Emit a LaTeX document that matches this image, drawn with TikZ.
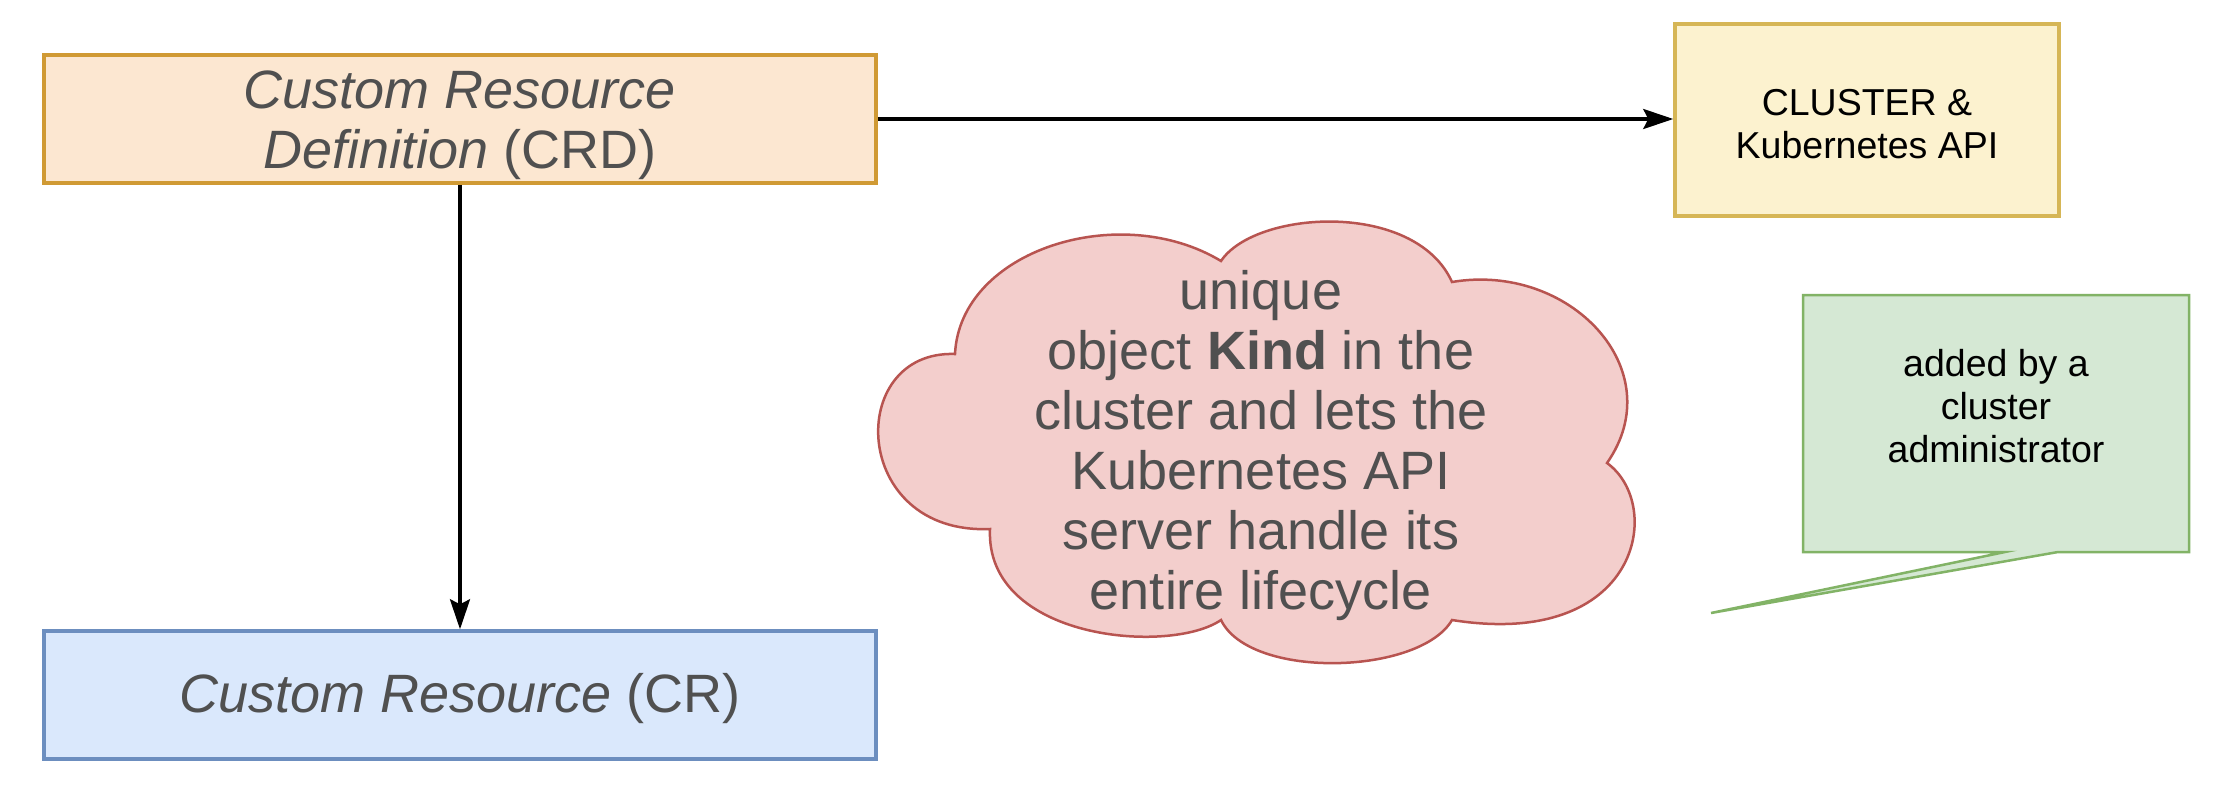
\documentclass[tikz,border=0pt]{standalone}
\usepackage{fontspec}
\setmainfont{Liberation Sans}
\usetikzlibrary{arrows.meta}
\definecolor{crdfill}{HTML}{FCE7D1}
\definecolor{crdline}{HTML}{D09A34}
\definecolor{clfill}{HTML}{FCF2CF}
\definecolor{clline}{HTML}{D6B656}
\definecolor{crfill}{HTML}{DAE8FC}
\definecolor{crline}{HTML}{6C8EBF}
\definecolor{cloudfill}{HTML}{F3CECC}
\definecolor{cloudline}{HTML}{B85450}
\definecolor{notefill}{HTML}{D5E8D4}
\definecolor{noteline}{HTML}{82B366}
\definecolor{graytext}{HTML}{505050}
\tikzset{
  bigtext/.style={font=\fontsize{54}{60}\selectfont, text=graytext, align=center},
  smalltext/.style={font=\fontsize{37.5}{43}\selectfont, text=black, align=center},
  boxshape/.style={draw, line width=3.5pt, inner sep=0pt},
  conn/.style={line width=3.2pt, -{Stealth[length=30pt,width=20pt,inset=5pt]}}
}
\begin{document}
\begin{tikzpicture}[x=1pt,y=-1pt]
\useasboundingbox (0,0) rectangle (2230,796);
\fill[white] (0,0) rectangle (2230,796);

\node[boxshape, draw=crdline, fill=crdfill, minimum width=832pt, minimum height=128pt] (crd) at (460,119) {};
\node[bigtext] (crdtxt) at (460,125) {\textit{Custom Resource}\\\textit{Definition} (CRD)};
\node[boxshape, draw=clline, fill=clfill, minimum width=384pt, minimum height=192pt] (cl) at (1867,120) {};
\node[smalltext] (cltxt) at (1867,124) {CLUSTER \&\\Kubernetes API};
\node[boxshape, draw=crline, fill=crfill, minimum width=832pt, minimum height=128pt] (cr) at (460,695) {};
\node[bigtext] (crtxt) at (460,699) {\textit{Custom Resource} (CR)};

% cloud
\draw[line width=2.5pt, draw=cloudline, fill=cloudfill]
  (955,354) .. controls (960,250) and (1120,200) .. (1221,261)
  .. controls (1255,210) and (1415,200) .. (1452,282)
  .. controls (1570,262) and (1672,370) .. (1607,463)
  .. controls (1665,505) and (1640,650) .. (1452,620)
  .. controls (1420,675) and (1250,680) .. (1221,620)
  .. controls (1170,655) and (985,640) .. (990,529)
  .. controls (850,535) and (845,350) .. (955,354) -- cycle;
\node[bigtext] (cloudtxt) at (1261,446)
  {unique\\object \textbf{Kind} in the\\cluster and lets the\\Kubernetes API\\server handle its\\entire lifecycle};

% callout
\draw[line width=2.5pt, draw=noteline, fill=notefill, line join=miter]
  (1803,295) -- (2189,295) -- (2189,552) -- (2058,552) -- (1711,613) -- (2005,552) -- (1803,552) -- cycle;
\node[smalltext] (note) at (1996,406) {added by a\\cluster\\administrator};

\draw[conn] (crd.east) -- (cl.west |- crd.east);
\draw[conn] (crd.south) -- (cr.north);
\end{tikzpicture}
\end{document}
